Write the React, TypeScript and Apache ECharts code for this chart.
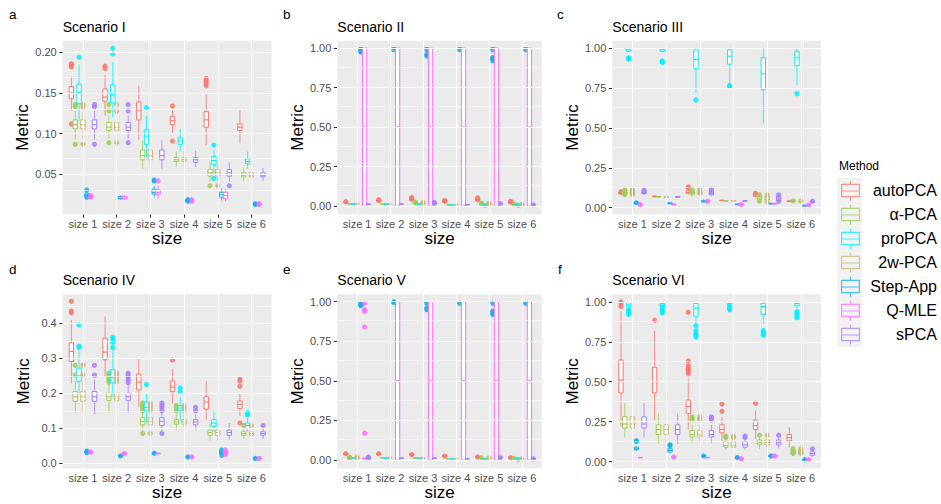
import React, { useEffect, useRef } from "react";
import * as echarts from "echarts";

const METHODS = ["autoPCA", "α-PCA", "proPCA", "2w-PCA", "Step-App", "Q-MLE", "sPCA"];
const COLORS = ["#F8766D", "#9FCB55", "#00F0FF", "#C8B676", "#10B0EC", "#FF6CFF", "#A77FFF"];
const LEGEND_COLORS = ["rgba(248,118,109,0.75)", "rgba(159,203,85,0.75)", "rgba(0,240,255,0.75)", "rgba(200,182,118,0.75)", "rgba(16,176,236,0.75)", "rgba(255,108,255,0.75)", "rgba(167,127,255,0.75)"];
const SIZES = ["size 1", "size 2", "size 3", "size 4", "size 5", "size 6"];
const SCENARIOS = ["Scenario I", "Scenario II", "Scenario III", "Scenario IV", "Scenario V", "Scenario VI"];
const LETTERS = ["a", "b", "c", "d", "e", "f"];

// y-axis ticks
const TICKS_I = [0.05, 0.1, 0.15, 0.2];
const MINOR_I = [0.025, 0.075, 0.125, 0.175];
const TICKS_UNIT = [0, 0.25, 0.5, 0.75, 1];
const MINOR_UNIT = [0.125, 0.375, 0.625, 0.875];
const TICKS_IV = [0, 0.1, 0.2, 0.3, 0.4];
const MINOR_IV = [0.05, 0.15, 0.25, 0.35, 0.45];

// boxes: [method][size] = [lower whisker, q1, median, q3, upper whisker]
const boxesI = [
  [[0.128, 0.143, 0.150, 0.158, 0.170], [0.122, 0.140, 0.145, 0.155, 0.172], [0.093, 0.117, 0.129, 0.139, 0.159], [0.100, 0.111, 0.116, 0.121, 0.129], [0.086, 0.108, 0.117, 0.127, 0.150], [0.088, 0.104, 0.108, 0.112, 0.129]],
  [[0.093, 0.106, 0.111, 0.117, 0.128], [0.094, 0.104, 0.108, 0.114, 0.122], [0.057, 0.068, 0.073, 0.080, 0.091], [0.060, 0.066, 0.068, 0.071, 0.079], [0.041, 0.048, 0.052, 0.056, 0.065], [0.042, 0.047, 0.049, 0.052, 0.058]],
  [[0.115, 0.137, 0.151, 0.161, 0.185], [0.120, 0.138, 0.148, 0.160, 0.188], [0.071, 0.087, 0.097, 0.105, 0.122], [0.078, 0.087, 0.091, 0.095, 0.106], [0.051, 0.062, 0.067, 0.072, 0.080], [0.057, 0.063, 0.066, 0.069, 0.078]],
  [[0.093, 0.106, 0.111, 0.117, 0.128], [0.094, 0.104, 0.108, 0.114, 0.122], [0.057, 0.068, 0.073, 0.080, 0.092], [0.060, 0.066, 0.068, 0.071, 0.079], [0.041, 0.048, 0.052, 0.056, 0.065], [0.042, 0.047, 0.049, 0.052, 0.058]],
  [[0.022, 0.023, 0.025, 0.027, 0.029], [0.019, 0.020, 0.021, 0.023, 0.024], [0.022, 0.026, 0.028, 0.032, 0.036], [0.017, 0.018, 0.018, 0.018, 0.019], [0.018, 0.022, 0.025, 0.028, 0.033], [0.013, 0.0135, 0.0135, 0.014, 0.0145]],
  [[0.021, 0.022, 0.023, 0.024, 0.025], [0.019, 0.020, 0.021, 0.023, 0.025], [0.020, 0.025, 0.028, 0.031, 0.036], [0.017, 0.018, 0.018, 0.018, 0.019], [0.017, 0.020, 0.024, 0.028, 0.032], [0.013, 0.0135, 0.0135, 0.014, 0.0145]],
  [[0.093, 0.106, 0.111, 0.117, 0.128], [0.094, 0.104, 0.108, 0.114, 0.122], [0.057, 0.068, 0.073, 0.080, 0.092], [0.059, 0.065, 0.068, 0.071, 0.079], [0.041, 0.048, 0.052, 0.056, 0.065], [0.042, 0.047, 0.049, 0.052, 0.058]],
];
const outliersI = [
  [[0.182, 0.184, 0.186, 0.112], [0.180, 0.183], [], [0.134, 0.091], [0.159, 0.162, 0.165, 0.168], []],
  [[0.133, 0.136, 0.087], [0.128, 0.136, 0.089], [], [], [0.036], []],
  [[0.194], [0.198, 0.205], [0.132], [], [0.086, 0.045], []],
  [[0.133, 0.136, 0.087], [0.128, 0.136, 0.089], [], [], [0.036], []],
  [[0.031, 0.022], [], [0.042, 0.043], [0.017, 0.019], [], [0.013, 0.014]],
  [[0.022, 0.024], [], [0.042], [0.017, 0.019], [], [0.013, 0.014]],
  [[0.133, 0.136, 0.087], [0.128, 0.136, 0.089], [], [], [0.036], []],
];

const boxesII = [
  [[0.018, 0.021, 0.023, 0.025, 0.028], [0.025, 0.030, 0.033, 0.036, 0.040], [0.030, 0.036, 0.040, 0.044, 0.050], [0.022, 0.026, 0.028, 0.031, 0.034], [0.030, 0.036, 0.040, 0.044, 0.048], [0.018, 0.022, 0.025, 0.028, 0.030]],
  [[0.012, 0.013, 0.014, 0.015, 0.016], [0.011, 0.012, 0.012, 0.013, 0.014], [0.015, 0.018, 0.020, 0.022, 0.025], [0.006, 0.007, 0.008, 0.009, 0.010], [0.012, 0.014, 0.015, 0.017, 0.018], [0.008, 0.009, 0.010, 0.011, 0.012]],
  [[0.012, 0.013, 0.014, 0.015, 0.016], [0.011, 0.012, 0.012, 0.013, 0.014], [0.010, 0.011, 0.012, 0.013, 0.014], [0.006, 0.007, 0.008, 0.009, 0.010], [0.006, 0.008, 0.009, 0.010, 0.012], [0.005, 0.006, 0.007, 0.008, 0.009]],
  [[0.012, 0.013, 0.014, 0.015, 0.016], [0.011, 0.012, 0.012, 0.013, 0.014], [0.015, 0.018, 0.020, 0.022, 0.025], [0.006, 0.007, 0.008, 0.009, 0.010], [0.012, 0.014, 0.015, 0.017, 0.018], [0.006, 0.007, 0.008, 0.009, 0.010]],
  [[1, 1, 1, 1, 1], [1, 1, 1, 1, 1], [1, 1, 1, 1, 1], [1, 1, 1, 1, 1], [1, 1, 1, 1, 1], [1, 1, 1, 1, 1]],
  [[0, 0, 0.5, 1, 1], [0, 0, 0.5, 1, 1], [0, 0, 0.5, 1, 1], [0, 0, 0.5, 1, 1], [0, 0, 0.5, 1, 1], [0, 0, 0.5, 1, 1]],
  [[0.010, 0.011, 0.012, 0.013, 0.014], [0.011, 0.012, 0.013, 0.014, 0.015], [0.018, 0.019, 0.020, 0.021, 0.022], [0.006, 0.007, 0.008, 0.009, 0.010], [0.012, 0.014, 0.015, 0.016, 0.018], [0.006, 0.007, 0.008, 0.009, 0.010]],
];
const outliersII = [
  [[0.028], [0.040, 0.035], [0.055, 0.045], [0.035, 0.030], [0.052, 0.040], [0.030, 0.025]],
  [[], [], [0.025, 0.020], [], [0.018, 0.015], [0.012, 0.010]],
  [[], [], [], [], [0.005], [0.005]],
  [[], [], [0.020, 0.022], [], [0.015, 0.018], [0.010, 0.008]],
  [[0.98, 0.975, 0.99, 0.985], [0.99], [0.99, 0.95, 0.96], [0.99], [0.99, 0.94, 0.92, 0.93], [0.99]],
  [[], [], [], [], [], []],
  [[], [], [0.022, 0.018], [], [0.016], [0.008]],
];

const boxesIII = [
  [[0.080, 0.085, 0.090, 0.095, 0.100], [0.065, 0.068, 0.070, 0.072, 0.075], [0.085, 0.090, 0.095, 0.105, 0.120], [0.042, 0.043, 0.045, 0.046, 0.048], [0.065, 0.070, 0.080, 0.088, 0.095], [0.037, 0.039, 0.040, 0.042, 0.043]],
  [[0.080, 0.088, 0.095, 0.100, 0.105], [0.065, 0.067, 0.068, 0.070, 0.072], [0.070, 0.080, 0.090, 0.100, 0.110], [0.040, 0.041, 0.042, 0.043, 0.044], [0.040, 0.050, 0.060, 0.070, 0.080], [0.037, 0.039, 0.040, 0.041, 0.042]],
  [[0.975, 0.980, 0.990, 0.995, 1.0], [0.975, 0.980, 0.990, 0.995, 1.0], [0.72, 0.87, 0.93, 0.99, 1.0], [0.78, 0.90, 0.95, 0.99, 1.0], [0.53, 0.74, 0.84, 0.94, 1.0], [0.77, 0.89, 0.94, 0.98, 1.0]],
  [[0.080, 0.088, 0.095, 0.100, 0.105], [0.063, 0.065, 0.067, 0.069, 0.071], [0.070, 0.080, 0.090, 0.100, 0.110], [0.040, 0.041, 0.042, 0.043, 0.044], [0.040, 0.050, 0.060, 0.070, 0.080], [0.037, 0.039, 0.040, 0.041, 0.042]],
  [[0.020, 0.025, 0.030, 0.033, 0.036], [0.020, 0.024, 0.027, 0.030, 0.033], [0.030, 0.035, 0.040, 0.045, 0.050], [0.015, 0.018, 0.020, 0.022, 0.025], [0.020, 0.023, 0.025, 0.027, 0.030], [0.008, 0.010, 0.012, 0.015, 0.020]],
  [[0.015, 0.018, 0.020, 0.022, 0.025], [0.015, 0.018, 0.020, 0.022, 0.025], [0.030, 0.035, 0.040, 0.045, 0.050], [0.015, 0.018, 0.020, 0.022, 0.025], [0.020, 0.023, 0.025, 0.027, 0.030], [0.010, 0.012, 0.015, 0.017, 0.020]],
  [[0.080, 0.088, 0.095, 0.100, 0.105], [0.063, 0.065, 0.067, 0.070, 0.072], [0.070, 0.080, 0.090, 0.100, 0.110], [0.038, 0.040, 0.042, 0.043, 0.045], [0.035, 0.045, 0.060, 0.070, 0.080], [0.030, 0.033, 0.035, 0.038, 0.040]],
];
const outliersIII = [
  [[0.100], [], [0.130, 0.125], [], [0.090], []],
  [[0.105, 0.110, 0.090, 0.080], [], [0.115, 0.100], [], [0.080, 0.040], [0.042]],
  [[0.94, 0.93, 0.935], [0.92, 0.91, 0.915], [0.675], [0.765, 0.76], [], [0.715]],
  [[0.105, 0.110, 0.090, 0.080], [], [0.115, 0.100], [], [0.080, 0.040], [0.042]],
  [[0.030], [], [], [], [], []],
  [[0.020], [], [0.040], [0.020], [], [0.015]],
  [[0.110, 0.100], [], [0.115, 0.100], [], [0.080, 0.040], [0.040]],
];

const boxesIV = [
  [[0.229, 0.291, 0.320, 0.344, 0.410], [0.250, 0.296, 0.318, 0.358, 0.420], [0.160, 0.210, 0.232, 0.255, 0.300], [0.170, 0.205, 0.218, 0.235, 0.270], [0.125, 0.155, 0.175, 0.190, 0.235], [0.135, 0.157, 0.168, 0.178, 0.200]],
  [[0.145, 0.177, 0.190, 0.205, 0.235], [0.145, 0.180, 0.190, 0.200, 0.228], [0.092, 0.110, 0.120, 0.130, 0.145], [0.095, 0.112, 0.118, 0.125, 0.140], [0.065, 0.080, 0.088, 0.095, 0.115], [0.070, 0.080, 0.085, 0.090, 0.100]],
  [[0.200, 0.234, 0.250, 0.272, 0.320], [0.190, 0.230, 0.245, 0.268, 0.320], [0.115, 0.150, 0.160, 0.175, 0.200], [0.120, 0.150, 0.158, 0.165, 0.190], [0.090, 0.105, 0.115, 0.125, 0.150], [0.090, 0.100, 0.108, 0.115, 0.130]],
  [[0.145, 0.177, 0.190, 0.205, 0.235], [0.145, 0.180, 0.190, 0.200, 0.228], [0.092, 0.110, 0.120, 0.130, 0.145], [0.095, 0.112, 0.118, 0.125, 0.140], [0.065, 0.080, 0.088, 0.095, 0.115], [0.070, 0.080, 0.085, 0.090, 0.100]],
  [[0.030, 0.031, 0.033, 0.034, 0.035], [0.020, 0.021, 0.022, 0.023, 0.024], [0.027, 0.028, 0.029, 0.030, 0.031], [0.017, 0.018, 0.018, 0.019, 0.020], [0.023, 0.027, 0.031, 0.035, 0.038], [0.013, 0.014, 0.014, 0.015, 0.016]],
  [[0.030, 0.031, 0.032, 0.033, 0.034], [0.026, 0.027, 0.028, 0.029, 0.030], [0.026, 0.027, 0.028, 0.029, 0.030], [0.017, 0.018, 0.018, 0.019, 0.020], [0.023, 0.027, 0.031, 0.035, 0.038], [0.013, 0.014, 0.014, 0.015, 0.016]],
  [[0.140, 0.177, 0.190, 0.205, 0.240], [0.145, 0.180, 0.190, 0.200, 0.222], [0.092, 0.108, 0.120, 0.130, 0.145], [0.095, 0.110, 0.118, 0.125, 0.140], [0.068, 0.080, 0.088, 0.095, 0.115], [0.070, 0.080, 0.085, 0.090, 0.100]],
];
const outliersIV = [
  [[0.463, 0.435, 0.430], [], [], [0.295], [], [0.115, 0.220, 0.235, 0.240]],
  [[0.252, 0.280], [0.232, 0.238, 0.245, 0.252, 0.258], [0.150, 0.158, 0.165, 0.172, 0.085], [0.150, 0.158, 0.165], [], [0.108]],
  [[0.330, 0.335, 0.395], [0.330, 0.345, 0.355, 0.360], [0.225], [0.205, 0.215], [], [0.138, 0.142, 0.145]],
  [[0.252, 0.280], [0.232, 0.238, 0.245, 0.252, 0.258], [0.150, 0.158, 0.165, 0.172, 0.085], [0.150, 0.158, 0.165], [], [0.108]],
  [[0.030, 0.035], [0.021], [0.029], [0.018], [0.023, 0.038], [0.014]],
  [[0.032], [0.028], [], [0.018], [0.025, 0.038], [0.014]],
  [[0.252, 0.280], [0.230, 0.238, 0.245, 0.252, 0.258], [0.150, 0.158, 0.165, 0.172, 0.085], [0.150, 0.160], [], [0.108]],
];

const boxesV = [
  [[0.030, 0.035, 0.038, 0.041, 0.045], [0.030, 0.035, 0.038, 0.041, 0.045], [0.028, 0.032, 0.035, 0.038, 0.042], [0.020, 0.023, 0.025, 0.027, 0.030], [0.016, 0.018, 0.020, 0.022, 0.024], [0.012, 0.014, 0.015, 0.017, 0.018]],
  [[0.010, 0.013, 0.015, 0.018, 0.022], [0.012, 0.013, 0.014, 0.015, 0.016], [0.010, 0.011, 0.012, 0.013, 0.014], [0.007, 0.008, 0.009, 0.010, 0.011], [0.012, 0.013, 0.015, 0.016, 0.018], [0.006, 0.008, 0.010, 0.011, 0.012]],
  [[0.012, 0.013, 0.014, 0.015, 0.016], [0.011, 0.012, 0.013, 0.014, 0.015], [0.010, 0.011, 0.012, 0.013, 0.014], [0.006, 0.007, 0.008, 0.009, 0.010], [0.005, 0.006, 0.007, 0.008, 0.009], [0.004, 0.005, 0.006, 0.007, 0.008]],
  [[0.012, 0.014, 0.016, 0.018, 0.020], [0.012, 0.013, 0.014, 0.015, 0.016], [0.010, 0.011, 0.012, 0.013, 0.014], [0.007, 0.008, 0.009, 0.010, 0.011], [0.012, 0.013, 0.015, 0.016, 0.018], [0.006, 0.007, 0.008, 0.009, 0.010]],
  [[1, 1, 1, 1, 1], [1, 1, 1, 1, 1], [1, 1, 1, 1, 1], [1, 1, 1, 1, 1], [1, 1, 1, 1, 1], [1, 1, 1, 1, 1]],
  [[0.005, 0.008, 0.010, 0.012, 0.015], [0, 0, 0.5, 1, 1], [0, 0, 0.5, 1, 1], [0, 0, 0.5, 1, 1], [0, 0, 0.5, 1, 1], [0, 0, 0.5, 1, 1]],
  [[0.010, 0.012, 0.015, 0.018, 0.020], [0.010, 0.011, 0.012, 0.013, 0.014], [0.010, 0.011, 0.012, 0.013, 0.014], [0.006, 0.007, 0.008, 0.009, 0.010], [0.012, 0.014, 0.015, 0.016, 0.018], [0.006, 0.008, 0.009, 0.010, 0.012]],
];
const outliersV = [
  [[0.040], [0.040], [0.035], [0.025], [0.020], [0.015]],
  [[0.020, 0.012], [], [], [], [0.015], [0.010]],
  [[], [], [], [], [], [0.004]],
  [[0.020, 0.012], [], [], [], [0.015], [0.008]],
  [[0.99, 0.98, 0.975, 0.985], [0.995, 1.0], [0.99, 0.95, 0.96], [0.99], [0.99, 0.94, 0.92, 0.93], [0.99]],
  [[0.99, 0.95, 0.94, 0.84, 0.17], [], [], [], [], []],
  [[0.020, 0.012], [], [], [], [0.016], [0.008]],
];

const boxesVI = [
  [[0.22, 0.43, 0.51, 0.636, 0.94], [0.26, 0.43, 0.50, 0.59, 0.82], [0.20, 0.30, 0.345, 0.385, 0.52], [0.13, 0.18, 0.20, 0.23, 0.28], [0.14, 0.20, 0.225, 0.26, 0.32], [0.09, 0.13, 0.15, 0.17, 0.215]],
  [[0.15, 0.21, 0.235, 0.28, 0.365], [0.11, 0.17, 0.20, 0.23, 0.30], [0.115, 0.155, 0.17, 0.195, 0.23], [0.075, 0.09, 0.10, 0.125, 0.14], [0.08, 0.105, 0.12, 0.135, 0.15], [0.035, 0.05, 0.06, 0.07, 0.095]],
  [[0.96, 0.97, 0.985, 0.995, 1.0], [0.96, 0.975, 0.99, 0.995, 1.0], [0.86, 0.91, 0.96, 0.99, 1.0], [0.97, 0.98, 0.99, 0.995, 1.0], [0.86, 0.92, 0.97, 0.99, 1.0], [0.96, 0.975, 0.99, 0.995, 1.0]],
  [[0.15, 0.21, 0.235, 0.28, 0.365], [0.11, 0.17, 0.20, 0.23, 0.30], [0.115, 0.155, 0.17, 0.195, 0.23], [0.075, 0.09, 0.10, 0.125, 0.14], [0.08, 0.105, 0.12, 0.135, 0.15], [0.035, 0.05, 0.06, 0.07, 0.095]],
  [[0.065, 0.075, 0.08, 0.09, 0.10], [0.05, 0.06, 0.07, 0.08, 0.09], [0.03, 0.032, 0.035, 0.038, 0.04], [0.02, 0.023, 0.025, 0.028, 0.03], [0.028, 0.03, 0.035, 0.04, 0.042], [0.008, 0.01, 0.012, 0.013, 0.015]],
  [[0.022, 0.024, 0.025, 0.026, 0.028], [0.02, 0.025, 0.028, 0.03, 0.035], [0.022, 0.024, 0.025, 0.026, 0.028], [0.012, 0.015, 0.018, 0.02, 0.022], [0.028, 0.03, 0.035, 0.04, 0.042], [0.01, 0.011, 0.012, 0.013, 0.015]],
  [[0.15, 0.21, 0.235, 0.28, 0.365], [0.11, 0.17, 0.20, 0.23, 0.30], [0.115, 0.155, 0.17, 0.195, 0.23], [0.075, 0.09, 0.105, 0.125, 0.14], [0.08, 0.105, 0.12, 0.135, 0.15], [0.03, 0.04, 0.05, 0.06, 0.08]],
];
const outliersVI = [
  [[0.97, 0.99, 1.0], [0.885], [0.55, 0.565, 0.575, 0.585, 0.60, 0.63, 0.935], [0.315, 0.36], [0.365], []],
  [[], [], [0.26, 0.27, 0.28], [0.15, 0.16], [0.165], [0.05, 0.08]],
  [[0.92, 0.93, 0.94, 0.95], [0.93, 0.94, 0.955, 0.97], [0.85, 0.82, 0.80, 0.79, 0.78], [0.95, 0.955, 0.96, 0.97], [0.82, 0.81, 0.80, 0.79], [0.90, 0.91, 0.92, 0.93, 0.94]],
  [[], [], [0.26, 0.27, 0.28], [0.15, 0.16], [0.165], [0.05, 0.08]],
  [[0.13, 0.125], [0.10, 0.105], [0.035], [0.025], [0.035], [0.012]],
  [[], [0.028], [], [0.018], [0.035], [0.012]],
  [[], [], [0.26, 0.27, 0.28], [0.15, 0.16], [0.165], [0.08]],
];

const ALL_BOXES = [boxesI, boxesII, boxesIII, boxesIV, boxesV, boxesVI];
const ALL_OUTLIERS = [outliersI, outliersII, outliersIII, outliersIV, outliersV, outliersVI];

// layout (pixels) and axis ranges
const PANELS = [
  { left: 62.7, top: 40.7, width: 209, height: 173.6 },
  { left: 337.3, top: 40.7, width: 204.4, height: 173.6 },
  { left: 612.3, top: 40.7, width: 208.7, height: 173.6 },
  { left: 62.7, top: 294.3, width: 209, height: 174 },
  { left: 337.3, top: 294.3, width: 204.4, height: 174 },
  { left: 612.3, top: 294.3, width: 208.7, height: 174 },
];
const Y_RANGES = [[0.001, 0.2143], [-0.052, 1.047], [-0.042, 1.047], [-0.0143, 0.483], [-0.052, 1.047], [-0.042, 1.047]];
const Y_TICKS = [TICKS_I, TICKS_UNIT, TICKS_UNIT, TICKS_IV, TICKS_UNIT, TICKS_UNIT];
const Y_MINOR = [MINOR_I, MINOR_UNIT, MINOR_UNIT, MINOR_IV, MINOR_UNIT, MINOR_UNIT];
const Y_DEC = [2, 2, 2, 1, 2, 2];

const DODGE = 0.8;
const BOX_W = 0.13;
const FONT = "Liberation Sans, Arial, Helvetica, sans-serif";
const LEGEND_ICON =
  "path://M0,3H19V16.6H0Z M1.2,4.2V15.4H17.8V4.2Z M0.6,9.7H18.4V10.9H0.6Z M8.9,0H10.1V3H8.9Z M8.9,16.6H10.1V20H8.9Z";

function makeRender(p: number, m: number) {
  return (params: any, api: any) => {
    const x = api.value(0) + ((m - 3) * DODGE) / 7;
    const pMin = api.coord([x, api.value(1)]);
    const pQ1 = api.coord([x, api.value(2)]);
    const pMed = api.coord([x, api.value(3)]);
    const pQ3 = api.coord([x, api.value(4)]);
    const pMax = api.coord([x, api.value(5)]);
    const w = api.size([BOX_W, 0], [x, 0])[0];
    const cx = pMed[0];
    const color = COLORS[m];
    const children: any[] = [
      { type: "line", shape: { x1: cx, y1: pMin[1], x2: cx, y2: pQ1[1] }, style: { stroke: color, lineWidth: 1, opacity: 0.8 } },
      { type: "line", shape: { x1: cx, y1: pQ3[1], x2: cx, y2: pMax[1] }, style: { stroke: color, lineWidth: 1, opacity: 0.8 } },
      { type: "rect", shape: { x: cx - w / 2, y: pQ3[1], width: w, height: pQ1[1] - pQ3[1] }, style: { fill: "#fff", stroke: color, lineWidth: 1 } },
      { type: "line", shape: { x1: cx - w / 2, y1: pMed[1], x2: cx + w / 2, y2: pMed[1] }, style: { stroke: color, lineWidth: 1.2 } },
    ];
    const outs: number[] = ALL_OUTLIERS[p][m][params.dataIndex] || [];
    outs.forEach((v) => {
      const pt = api.coord([x, v]);
      children.push({ type: "circle", shape: { cx: pt[0], cy: pt[1], r: 2.6 }, style: { fill: color, opacity: 0.85 } });
    });
    return { type: "group", children };
  };
}

export default function App() {
  const ref = useRef<HTMLDivElement>(null);
  useEffect(() => {
    if (!ref.current) return;
    const chart = echarts.init(ref.current, undefined, { renderer: "svg" });

    const grids = PANELS.map((g) => ({ ...g, show: true, backgroundColor: "#EBEBEB", borderWidth: 0 }));
    const xAxes = PANELS.map((_, p) => ({
      type: "value",
      gridIndex: p,
      min: 0.4,
      max: 6.6,
      name: "size",
      nameLocation: "middle",
      nameGap: 15,
      nameTextStyle: { fontSize: 17, color: "#000", fontFamily: FONT },
      axisLine: { show: false },
      splitLine: { show: false },
      axisTick: { show: true, length: 3.5, customValues: [1, 2, 3, 4, 5, 6], lineStyle: { color: "#333" } },
      axisLabel: {
        customValues: [1, 2, 3, 4, 5, 6],
        formatter: (v: number) => SIZES[Math.round(v) - 1],
        fontSize: 11,
        color: "#4D4D4D",
        fontFamily: FONT,
        margin: 4,
      },
    }));
    const yAxes = PANELS.map((_, p) => ({
      type: "value",
      gridIndex: p,
      min: Y_RANGES[p][0],
      max: Y_RANGES[p][1],
      name: "Metric",
      nameLocation: "middle",
      nameRotate: 90,
      nameGap: 31,
      nameTextStyle: { fontSize: 17, color: "#000", fontFamily: FONT },
      axisLine: { show: false },
      splitLine: { show: false },
      axisTick: { show: true, length: 3.5, customValues: Y_TICKS[p], lineStyle: { color: "#333" } },
      axisLabel: {
        customValues: Y_TICKS[p],
        formatter: (v: number) => v.toFixed(Y_DEC[p]),
        fontSize: 11,
        color: "#4D4D4D",
        fontFamily: FONT,
        margin: 6,
      },
    }));

    const series: any[] = [];
    PANELS.forEach((_, p) => {
      series.push({
        type: "line",
        name: "grid" + p,
        xAxisIndex: p,
        yAxisIndex: p,
        data: [],
        silent: true,
        z: 1,
        markLine: {
          silent: true,
          symbol: ["none", "none"],
          label: { show: false },
          lineStyle: { color: "#FFFFFF", type: "solid", width: 1.1 },
          data: [
            ...Y_MINOR[p].map((v) => ({ yAxis: v, lineStyle: { color: "#FFFFFF", type: "solid", width: 0.55 } })),
            ...Y_TICKS[p].map((v) => ({ yAxis: v })),
            ...SIZES.map((_, i) => ({ xAxis: i + 1 })),
          ],
        },
      });
      METHODS.forEach((name, m) => {
        series.push({
          type: "custom",
          name,
          xAxisIndex: p,
          yAxisIndex: p,
          z: 3,
          itemStyle: { color: COLORS[m] },
          encode: { x: 0, y: [1, 2, 3, 4, 5] },
          data: ALL_BOXES[p][m].map((b, i) => [i + 1, ...b]),
          renderItem: makeRender(p, m),
        });
      });
    });

    const titles: any[] = [];
    PANELS.forEach((g, p) => {
      titles.push({
        text: SCENARIOS[p],
        left: g.left,
        top: p < 3 ? 19.7 : 273,
        padding: 0,
        textStyle: { fontSize: 14, fontWeight: "normal", color: "#000", fontFamily: FONT },
      });
    });
    const letterX = [9, 283, 557, 9, 283, 558];
    LETTERS.forEach((l, p) => {
      titles.push({
        text: l,
        left: letterX[p],
        top: p < 3 ? 7.5 : 262,
        padding: 0,
        textStyle: { fontSize: 13.5, fontWeight: "normal", color: "#000", fontFamily: FONT },
      });
    });
    titles.push({
      text: "Method",
      left: 839,
      top: 160,
      padding: 0,
      textStyle: { fontSize: 12, fontWeight: "normal", color: "#000", fontFamily: FONT },
    });

    chart.setOption({
      animation: false,
      backgroundColor: "#FFFFFF",
      title: titles,
      grid: grids,
      xAxis: xAxes,
      yAxis: yAxes,
      legend: {
        orient: "vertical",
        left: 841,
        top: 180.7,
        itemWidth: 19,
        itemHeight: 20,
        itemGap: 4,
        selectedMode: false,
        padding: 0,
        data: METHODS.map((name, m) => ({ name, icon: LEGEND_ICON, itemStyle: { color: LEGEND_COLORS[m] } })),
        formatter: (name: string) => `{t|${name}}`,
        textStyle: {
          fontSize: 16,
          color: "#000",
          fontFamily: FONT,
          rich: { t: { width: 72, align: "right", fontSize: 16, color: "#000", fontFamily: FONT } },
        },
      },
      graphic: [
        { type: "rect", left: 837, top: 178, z: -1, shape: { width: 25, height: 169 }, style: { fill: "#F2F2F2" } },
      ],
      series,
    });
    return () => chart.dispose();
  }, []);
  return <div ref={ref} style={{ position: "fixed", left: 0, top: 0, width: 941, height: 504 }} />;
}
